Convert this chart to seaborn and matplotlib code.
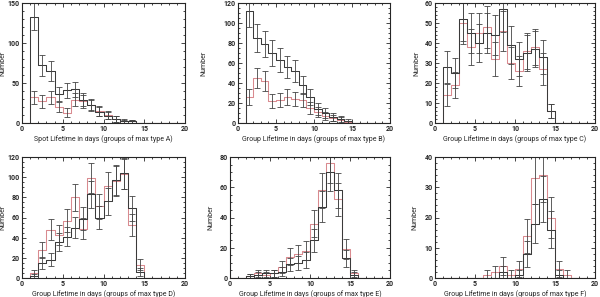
import numpy as np
import pandas as pd
import matplotlib
matplotlib.use("Agg")
import matplotlib.pyplot as plt
from matplotlib.ticker import MultipleLocator
import seaborn as sns

# lifetime bins, 1 day wide, 0..20 days
centers = np.arange(20) + 0.5

# counts per bin from day 0 onward (black = one sample, red = other)
black_A = [0, 133, 72, 65, 36, 41, 42, 29, 23, 14, 9, 5, 3, 2]
red_A = [0, 32, 27, 32, 20, 13, 29, 27, 22, 15, 10, 5, 2, 2]
black_B = [0, 112, 85, 79, 70, 63, 56, 52, 38, 26, 14, 10, 6, 4, 2]
red_B = [0, 26, 45, 42, 22, 23, 26, 24, 23, 15, 11, 7, 5, 3, 1]
black_C = [0, 28, 25, 52, 45, 40, 45, 44, 57, 39, 32, 35, 37, 33, 6]
red_C = [0, 14, 19, 50, 38, 45, 48, 32, 46, 30, 26, 36, 38, 27, 6]
black_D = [0, 2, 15, 18, 36, 41, 50, 59, 83, 60, 76, 97, 104, 69, 6]
red_D = [0, 5, 28, 48, 43, 57, 80, 49, 99, 71, 91, 96, 103, 53, 13]
black_E = [0, 0, 1, 2, 3, 3, 4, 9, 10, 12, 25, 47, 70, 58, 13, 2]
red_E = [0, 0, 1, 3, 2, 3, 7, 14, 16, 18, 36, 58, 76, 52, 19, 3]
black_F = [0, 0, 0, 0, 0, 0, 0, 0, 2, 0, 1, 8, 18, 26, 16, 1, 0]
red_F = [0, 0, 0, 0, 0, 0, 1, 2, 4, 1, 3, 14, 33, 34, 20, 3, 1]

xlabels = [
    "Spot Lifetime in days (groups of max type A)",
    "Group Lifetime in days (groups of max type B)",
    "Group Lifetime in days (groups of max type C)",
    "Group Lifetime in days (groups of max type D)",
    "Group Lifetime in days (groups of max type E)",
    "Group Lifetime in days (groups of max type F)",
]
ymax = [150, 120, 60, 120, 80, 40]
ymajor = [50, 20, 10, 20, 20, 10]
yminor = [10, 5, 2, 5, 5, 2]

panels = [(black_A, red_A), (black_B, red_B), (black_C, red_C),
          (black_D, red_D), (black_E, red_E), (black_F, red_F)]

sns.set_style("ticks")
plt.rcParams["font.family"] = ["Roboto", "DejaVu Sans"]
plt.rcParams["font.weight"] = "bold"

W, H = 600, 297
fig = plt.figure(figsize=(6, 2.97), dpi=100)

# axes boxes in pixels: left, top, right, bottom
boxes = [(22, 3, 185, 123), (238, 3, 390, 123), (435, 3, 595, 123),
         (22, 157, 185, 278), (230, 157, 390, 278), (435, 157, 595, 278)]
# distance of the "Number" label from the left axis, pixels
ylab_off = [16, 31, 15, 16, 16, 17]

black_c = "#3a3a3a"
red_c = "#d98a8f"
err_c = "#444444"

for i, (blk, red) in enumerate(panels):
    l, t, r, b = boxes[i]
    ax = fig.add_axes([l / W, 1 - b / H, (r - l) / W, (b - t) / H])
    for vals, col in ((red, red_c), (blk, black_c)):
        v = np.zeros(len(centers))
        v[:len(vals)] = vals
        df = pd.DataFrame({"days": centers, "n": v})
        sns.histplot(data=df, x="days", weights="n", binwidth=1,
                     binrange=(0, 20), element="step", fill=False,
                     color=col, linewidth=0.75, ax=ax)
    for vals in (red, blk):
        v = np.array(vals, dtype=float)
        c = centers[:len(v)]
        m = v > 0
        ax.errorbar(c[m], v[m], yerr=1.5 * np.sqrt(v[m]), fmt="none",
                    ecolor=err_c, elinewidth=0.6, capsize=2.5, capthick=0.6)
    ax.set_xlim(0, 20)
    ax.set_ylim(0, ymax[i])
    ax.xaxis.set_major_locator(MultipleLocator(5))
    ax.xaxis.set_minor_locator(MultipleLocator(1))
    ax.yaxis.set_major_locator(MultipleLocator(ymajor[i]))
    ax.yaxis.set_minor_locator(MultipleLocator(yminor[i]))
    ax.tick_params(which="both", direction="in", top=True, right=True,
                   labelsize=5, width=0.6, pad=1.5)
    ax.tick_params(which="major", length=3)
    ax.tick_params(which="minor", length=1.5)
    for s in ax.spines.values():
        s.set_linewidth(0.8)
    ax.set_xlabel(xlabels[i], fontsize=5.0, labelpad=1.5)
    ax.set_ylabel("Number", fontsize=5.0)
    ax.yaxis.set_label_coords(-ylab_off[i] / (r - l), 0.5)

fig.savefig("out.png", dpi=100)
